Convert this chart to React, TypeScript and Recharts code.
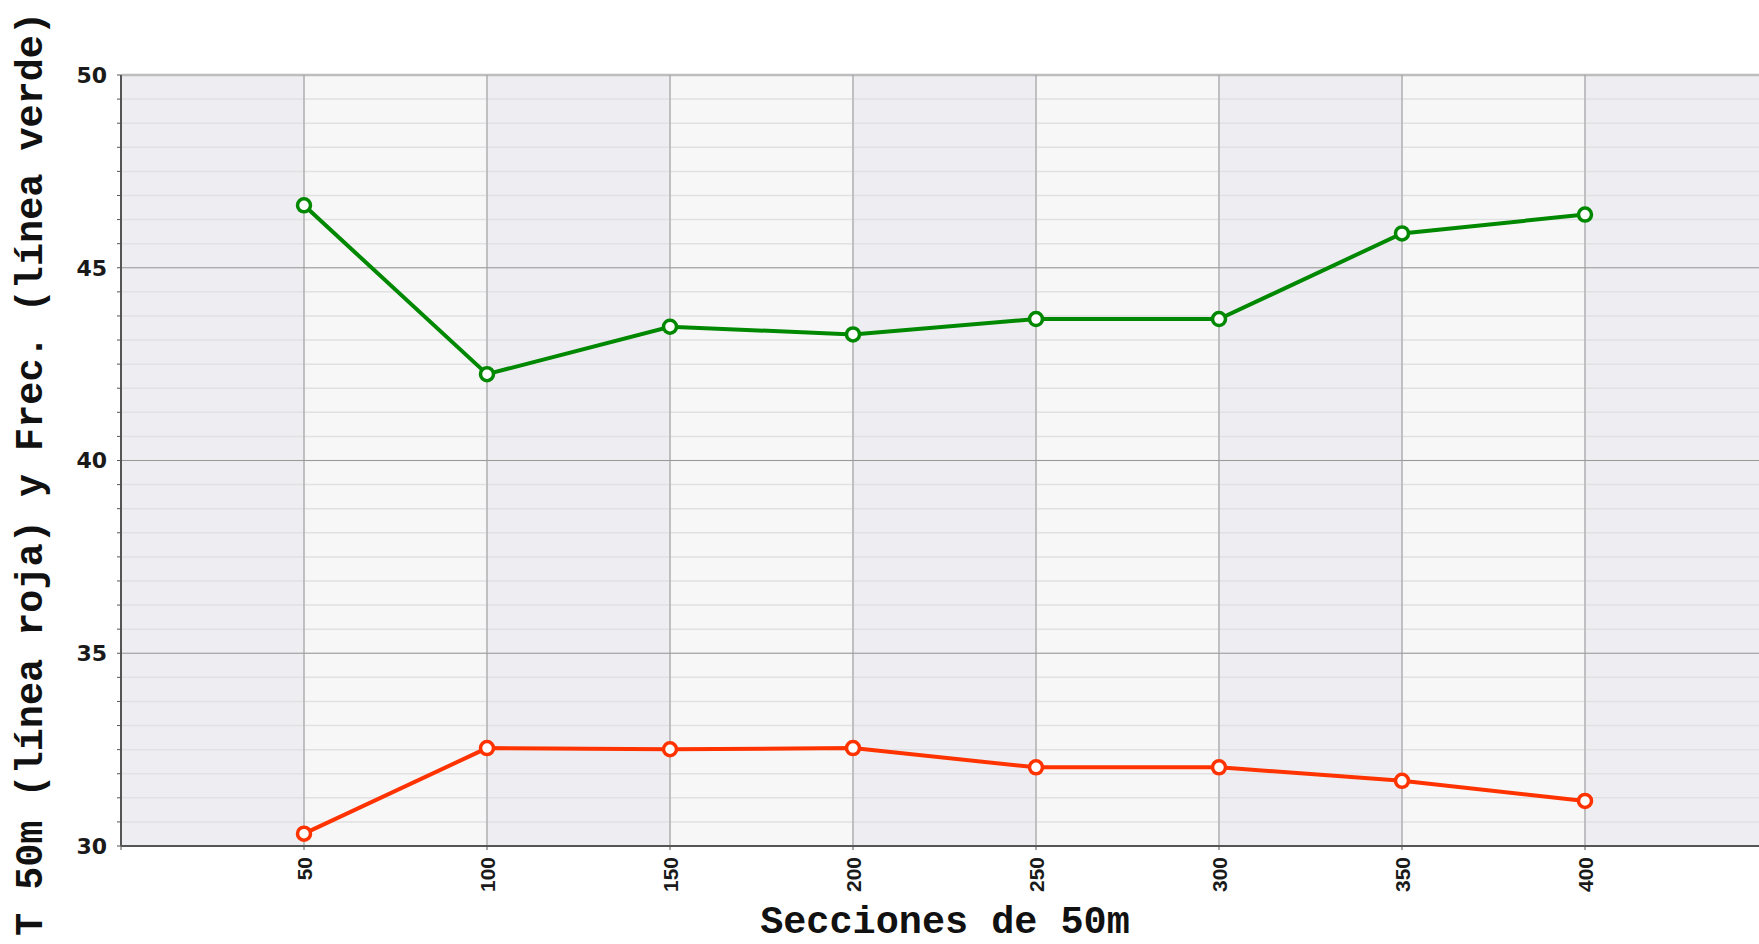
import React from "react";
import {
  LineChart,
  Line,
  XAxis,
  YAxis,
  CartesianGrid,
  ReferenceLine,
} from "recharts";

// secciones de 50m
const sections = [50, 100, 150, 200, 250, 300, 350, 400];
// frecuencia (línea verde)
const freqValues = [46.62, 42.24, 43.47, 43.27, 43.67, 43.67, 45.89, 46.38];
// T 50m (línea roja)
const timeValues = [30.32, 32.54, 32.51, 32.54, 32.04, 32.04, 31.69, 31.17];

const xTicks = [0, 50, 100, 150, 200, 250, 300, 350, 400, 450];
const yMajorTicks = [30, 35, 40, 45, 50];
const yMinorTicks = Array.from({ length: 33 }, (_, i) => 30 + i * 0.625);

const rows = sections.map((s, i) => ({
  x: s,
  freq: freqValues[i],
  time: timeValues[i],
}));

const GREEN = "#008800";
const RED = "#ff3300";
const monoFont = '"Liberation Mono", "Courier New", monospace';

const YTick = (props: any) => {
  const { x, y, payload } = props;
  if (payload.value % 5 !== 0) return null;
  return (
    <text
      x={x}
      y={y}
      dy="0.36em"
      textAnchor="end"
      style={{ fontFamily: '"DejaVu Sans", sans-serif', fontWeight: "bold", fontSize: 22, fill: "#1a1a1a" }}
    >
      {payload.value}
    </text>
  );
};

const XTick = (props: any) => {
  const { x, y, payload } = props;
  if (payload.value === 0 || payload.value === 450) return null;
  return (
    <text
      x={x}
      y={y}
      dy="0.36em"
      textAnchor="end"
      transform={`rotate(-90 ${x} ${y})`}
      style={{ fontFamily: '"Liberation Sans", Arial, sans-serif', fontWeight: "bold", fontSize: 21, fill: "#1a1a1a" }}
    >
      {payload.value}
    </text>
  );
};

const YTitle = () => (
  <text
    x={42}
    y={474}
    transform="rotate(-90 42 474)"
    textAnchor="middle"
    style={{ fontFamily: monoFont, fontWeight: "bold", fontSize: 38.5, fill: "#111" }}
  >
    T 50m (línea roja) y Frec. (línea verde)
  </text>
);

const XTitle = () => (
  <text
    x={945}
    y={933}
    textAnchor="middle"
    style={{ fontFamily: monoFont, fontWeight: "bold", fontSize: 38.5, fill: "#111" }}
  >
    Secciones de 50m
  </text>
);

export default function App() {
  return (
    <div
      style={{
        position: "absolute",
        left: 0,
        top: 0,
        width: 1759,
        height: 944,
        overflow: "hidden",
        background: "#fff",
      }}
    >
      <LineChart
        width={1780}
        height={944}
        data={rows}
        margin={{ top: 75, right: 12, left: 0, bottom: 0 }}
      >
        <CartesianGrid
          stroke="#e1e1e4"
          strokeWidth={1.5}
          verticalFill={["#eeeef2", "#f7f7f7"]}
          fillOpacity={1}
        />
        <XAxis
          type="number"
          dataKey="x"
          domain={[0, 450]}
          ticks={xTicks}
          interval={0}
          height={98}
          tickSize={4}
          tickMargin={7}
          axisLine={{ stroke: "#555", strokeWidth: 2 }}
          tickLine={{ stroke: "#555" }}
          tick={<XTick />}
          label={<XTitle />}
        />
        <YAxis
          type="number"
          domain={[30, 50]}
          ticks={yMinorTicks}
          interval={0}
          width={121}
          tickSize={4}
          tickMargin={10}
          axisLine={{ stroke: "#555", strokeWidth: 2 }}
          tickLine={{ stroke: "#555" }}
          tick={<YTick />}
          label={<YTitle />}
        />
        {yMajorTicks.slice(1, 4).map((v) => (
          <ReferenceLine key={`h${v}`} y={v} stroke="#9a9a9a" strokeWidth={1} />
        ))}
        <ReferenceLine y={50} stroke="#bdbdbd" strokeWidth={2.5} />
        {sections.map((v) => (
          <ReferenceLine key={`v${v}`} x={v} stroke="#9a9a9a" strokeWidth={1} />
        ))}
        <Line
          dataKey="freq"
          stroke={GREEN}
          strokeWidth={4}
          dot={{ r: 6.5, fill: "#fff", stroke: GREEN, strokeWidth: 3.5 }}
          activeDot={false}
          isAnimationActive={false}
        />
        <Line
          dataKey="time"
          stroke={RED}
          strokeWidth={4}
          dot={{ r: 6.5, fill: "#fff", stroke: RED, strokeWidth: 3.5 }}
          activeDot={false}
          isAnimationActive={false}
        />
      </LineChart>
    </div>
  );
}
